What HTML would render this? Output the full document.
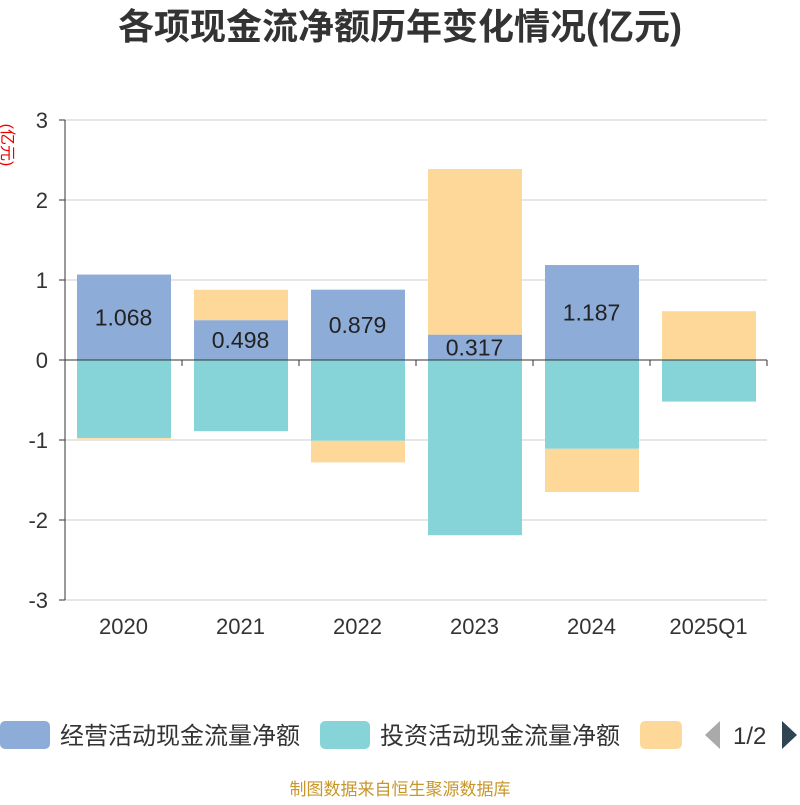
<!DOCTYPE html>
<html><head><meta charset="utf-8"><style>
body{margin:0;background:#fff;font-family:"Liberation Sans","Noto Sans CJK SC",sans-serif}
</style></head><body>
<svg id="c" width="800" height="800" xmlns="http://www.w3.org/2000/svg">
<text x="400" y="39" text-anchor="middle" font-size="36" font-weight="bold" fill="#333" font-family="Liberation Sans,Noto Sans CJK SC,sans-serif">各项现金流净额历年变化情况(亿元)</text>
<text transform="translate(2,145) rotate(90)" text-anchor="middle" font-size="16" fill="#e00" font-family="Liberation Sans,Noto Sans CJK SC,sans-serif">(亿元)</text>
<g id="grid"></g><g id="bars"></g><g id="axes"></g>
<g font-family="Liberation Sans,Noto Sans CJK SC,sans-serif" font-size="24" fill="#333">
<rect x="0" y="721" width="50" height="28" rx="5" fill="#8eacd8"/>
<text x="60" y="744">经营活动现金流量净额</text>
<rect x="320" y="721" width="50" height="28" rx="5" fill="#87d4d8"/>
<text x="380" y="744">投资活动现金流量净额</text>
<rect x="640" y="721" width="42" height="28" rx="5" fill="#fed899"/>
<path d="M720 721 L705 735 L720 749 Z" fill="#aaa"/>
<text x="733" y="744">1/2</text>
<path d="M782 721 L797 735 L782 749 Z" fill="#2f4554"/>
</g>
<text x="400" y="795" text-anchor="middle" font-size="17" fill="#c9962a" font-family="Liberation Sans,Noto Sans CJK SC,sans-serif">制图数据来自恒生聚源数据库</text>
</svg>
<script>
const categories=["2020","2021","2022","2023","2024","2025Q1"];
const operating=[1.068,0.498,0.879,0.317,1.187,0];
const investing=[-0.975,-0.89,-1.01,-2.19,-1.11,-0.52];
const financing=[-0.01,0.38,-0.27,2.07,-0.54,0.61];
const yTicks=[3,2,1,0,-1,-2,-3];
const NS="http://www.w3.org/2000/svg";
const L=65,R=767,T=120,B=600,ymin=-3,ymax=3;
const y=v=>B-(v-ymin)/(ymax-ymin)*(B-T);
const bw=(R-L)/categories.length;
const x=i=>L+bw*i;
function mk(t,a,p){const e=document.createElementNS(NS,t);for(const k in a)e.setAttribute(k,a[k]);p.appendChild(e);return e;}
const grid=document.getElementById('grid'),bars=document.getElementById('bars'),axes=document.getElementById('axes');
yTicks.forEach(v=>{
 const l=mk('line',{x1:L,x2:R,y1:y(v),y2:y(v),stroke:v===0?'#333':'#ccc','stroke-width':1},grid);
 
 
 const tk=mk('line',{x1:L-6,x2:L,y1:y(v),y2:y(v),stroke:'#333'},axes);
 
 
 const t=mk('text',{x:L-17,y:y(v)+8,'text-anchor':'end','font-size':22,fill:'#333'},axes);
 t.textContent=v;
 
 
});
const ya=mk('line',{x1:L,x2:L,y1:T,y2:B,stroke:'#333'},axes);


const series=[[operating,'#8eacd8','bar-operating'],[investing,'#87d4d8','bar-investing'],[financing,'#fed899','bar-financing']];
categories.forEach((c,i)=>{
 let pos=0,neg=0;
 series.forEach(([arr,col,nm])=>{
  const v=arr[i];if(!v)return;
  let a,b;
  if(v>0){a=pos;b=pos+v;pos=b;}else{a=neg;b=neg+v;neg=b;}
  const r=mk('rect',{x:x(i)+12,width:bw-23,y:Math.min(y(a),y(b)),height:Math.abs(y(a)-y(b)),fill:col},bars);
  
  
 });
 if(operating[i]){
  const t=mk('text',{x:x(i)+bw/2,y:y(operating[i]/2)+8,'text-anchor':'middle','font-size':23,fill:'#222'},bars);
  t.textContent=operating[i].toFixed(3);
  
  
 }
 const t=mk('text',{x:x(i)+bw/2,y:634,'text-anchor':'middle','font-size':22,fill:'#333'},axes);
 t.textContent=c;
 
 
});
for(let i=0;i<=categories.length;i++){
 const tk=mk('line',{x1:x(i),x2:x(i),y1:y(0),y2:y(0)+6,stroke:'#333'},axes);
 
 
}
const xa=mk('line',{x1:L,x2:R,y1:y(0),y2:y(0),stroke:'#333'},axes);


</script>
</body></html>
